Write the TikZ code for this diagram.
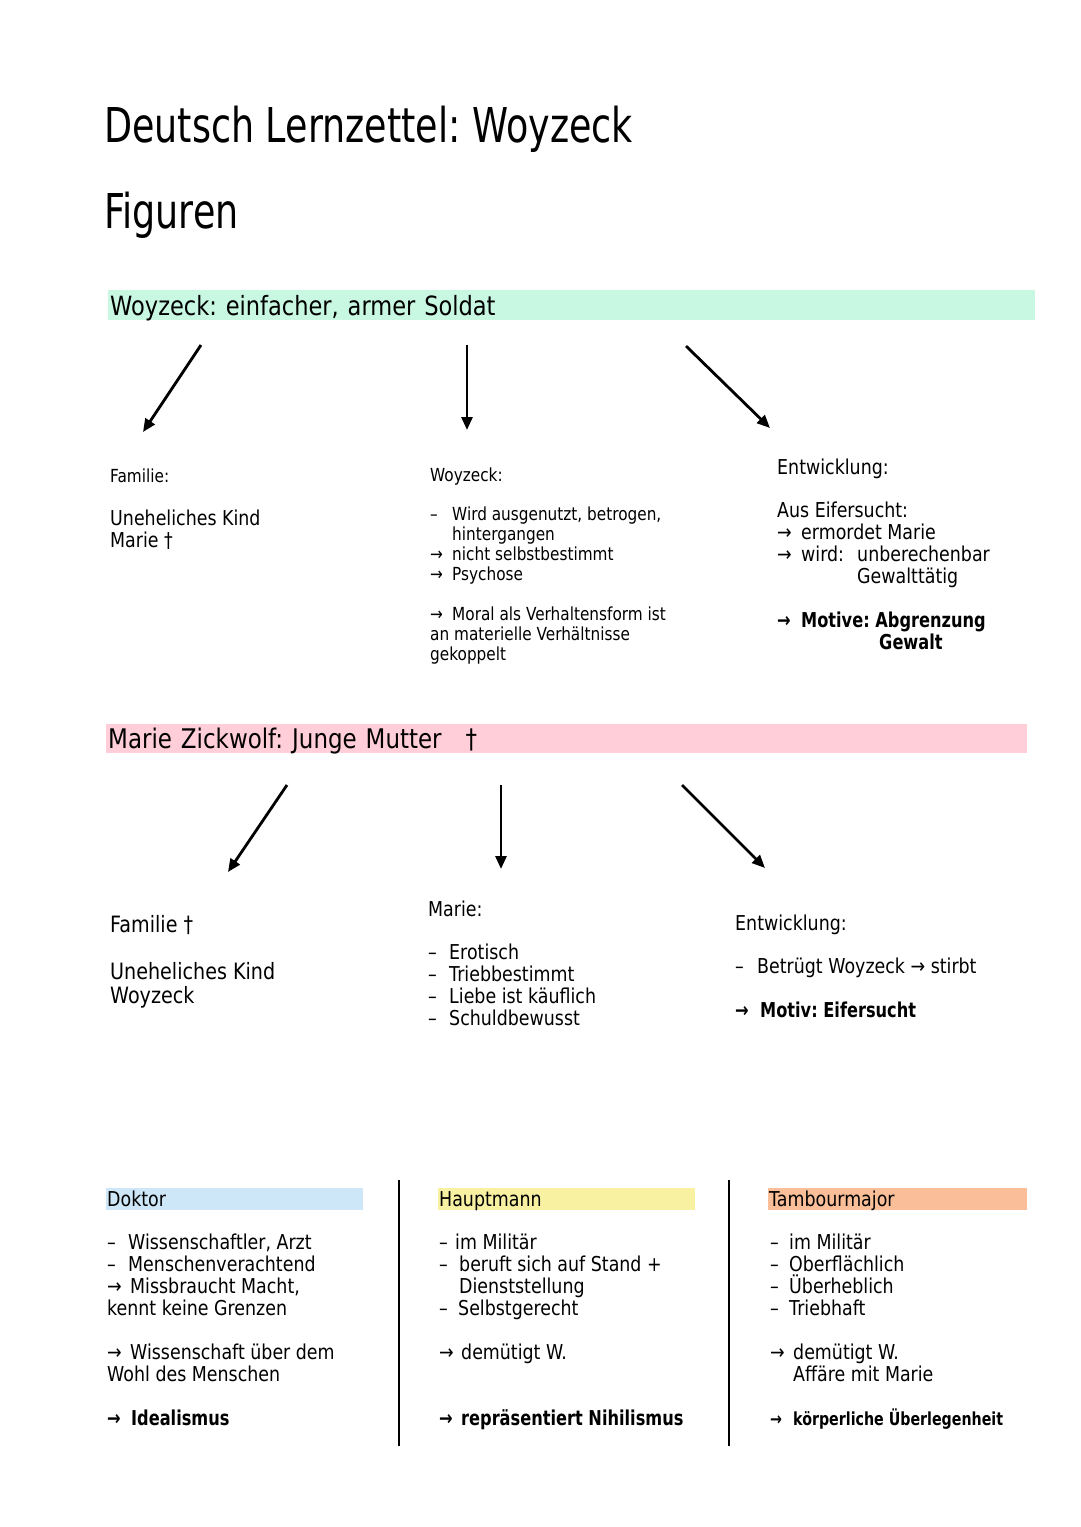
\documentclass[tikz,border=0pt]{standalone}
\usepackage{fontspec}
\setmainfont{DejaVu Sans}[FakeStretch=0.85, BoldFeatures={FakeStretch=0.79}]
\newfontfamily\titlefont{DejaVu Sans}[FakeStretch=0.76]
\frenchspacing
\usetikzlibrary{arrows.meta}
\definecolor{woyzeckgreen}{RGB}{200,248,226}
\definecolor{mariepink}{RGB}{255,206,216}
\definecolor{doktorblue}{RGB}{205,231,248}
\definecolor{hauptmannyellow}{RGB}{248,241,162}
\definecolor{tambourorange}{RGB}{250,190,152}
\newcommand{\leadsym}[2][22pt]{\makebox[#1][l]{#2}}
\newcommand{\textstack}[1]{\vtop{\hsize=400pt\lineskiplimit=-\maxdimen\raggedright\noindent#1\par}}
\tikzset{
	title node/.style={anchor=base west, inner sep=0, font=\titlefont\fontsize{48}{52}\selectfont},
	band node/.style={anchor=north west, inner xsep=2pt, inner ysep=0, align=left},
	text node/.style={anchor=base west, inner sep=0},
	head arrow/.style={line width=2.8pt, -{Triangle[length=13pt, width=11pt]}},
	rule line/.style={line width=2.6pt},
}

\begin{document}
\begin{tikzpicture}[x=1pt, y=-1pt]
\useasboundingbox (0,0) rectangle (1080,1527);

\node[title node] (title) at (104,142) {Deutsch Lernzettel: Woyzeck};
\node[title node] (figuren) at (104,228) {Figuren};

\node[band node, fill=woyzeckgreen, text width=923pt, text height=25pt, text depth=5pt, font=\fontsize{26.5}{30}\selectfont] (woyzeck band) at (108,290) {Woyzeck: einfacher, armer Soldat};

\coordinate (w left top) at (201,345);
\coordinate (w left tip) at (143,432);
\coordinate (w mid top) at (467,345);
\coordinate (w mid tip) at (467,430);
\coordinate (w right top) at (686,346);
\coordinate (w right tip) at (770,428);
\draw[head arrow] (w left top) -- (w left tip);
\draw[head arrow] (w mid top) -- (w mid tip);
\draw[head arrow] (w right top) -- (w right tip);

\node[text node, font=\fontsize{18}{22}\selectfont] (w family head) at (110,482) {Familie:};
\node[text node, font=\fontsize{20.5}{22}\selectfont] (w family) at (110,525) {\textstack{Uneheliches Kind\\Marie †}};

\node[text node, font=\fontsize{18}{20}\selectfont] (w person head) at (430,481) {Woyzeck:};
\node[text node, font=\fontsize{18}{20}\selectfont] (w person) at (430,520) {\textstack{%
	\leadsym[22pt]{–}Wird ausgenutzt, betrogen,\\
	\hspace*{22pt}hintergangen\\
	\leadsym[22pt]{→}nicht selbstbestimmt\\
	\leadsym[22pt]{→}Psychose\\[20pt]
	\leadsym[22pt]{→}Moral als Verhaltensform ist\\
	an materielle Verhältnisse\\
	gekoppelt}};

\node[text node, font=\fontsize{20.5}{22}\selectfont] (w change head) at (777,474) {Entwicklung:};
\node[text node, font=\fontsize{20.5}{22}\selectfont] (w change) at (777,517) {\textstack{%
	Aus Eifersucht:\\
	\leadsym[24pt]{→}ermordet Marie\\
	\leadsym[24pt]{→}\makebox[56pt][l]{wird:}unberechenbar\\
	\hspace*{80pt}Gewalttätig\\[22pt]
	\textbf{\leadsym[24pt]{→}Motive: Abgrenzung}\\
	\hspace*{102pt}\textbf{Gewalt}}};

\node[band node, fill=mariepink, text width=917pt, text height=24pt, text depth=5pt, font=\fontsize{27}{30}\selectfont] (marie band) at (106,724) {Marie Zickwolf: Junge Mutter\hspace{24pt}†};

\coordinate (m left top) at (287,785);
\coordinate (m left tip) at (228,872);
\coordinate (m mid top) at (501,785);
\coordinate (m mid tip) at (501,869);
\coordinate (m right top) at (682,785);
\coordinate (m right tip) at (765,868);
\draw[head arrow] (m left top) -- (m left tip);
\draw[head arrow] (m mid top) -- (m mid tip);
\draw[head arrow] (m right top) -- (m right tip);

\node[text node, font=\fontsize{22.5}{24}\selectfont] (m family head) at (110,932) {Familie †};
\node[text node, font=\fontsize{22.5}{24}\selectfont] (m family) at (110,979) {\textstack{Uneheliches Kind\\Woyzeck}};

\node[text node, font=\fontsize{20.5}{22}\selectfont] (m person head) at (428,916) {Marie:};
\node[text node, font=\fontsize{20.5}{22}\selectfont] (m person) at (428,959) {\textstack{%
	\leadsym[21pt]{–}Erotisch\\
	\leadsym[21pt]{–}Triebbestimmt\\
	\leadsym[21pt]{–}Liebe ist käuflich\\
	\leadsym[21pt]{–}Schuldbewusst}};

\node[text node, font=\fontsize{20.5}{22}\selectfont] (m change head) at (735,930) {Entwicklung:};
\node[text node, font=\fontsize{20.5}{22}\selectfont] (m change) at (735,973) {\textstack{%
	\leadsym[22pt]{–}Betrügt Woyzeck → stirbt\\[22pt]
	\textbf{\leadsym[25pt]{→}Motiv: Eifersucht}}};

\coordinate (rule one top) at (399,1180);
\coordinate (rule one bottom) at (399,1446);
\coordinate (rule two top) at (729,1180);
\coordinate (rule two bottom) at (729,1446);
\draw[rule line] (rule one top) -- (rule one bottom);
\draw[rule line] (rule two top) -- (rule two bottom);

\node[band node, fill=doktorblue, text width=255pt, text height=18pt, text depth=4pt, inner xsep=1pt, font=\fontsize{20.5}{22}\selectfont] (doktor band) at (106,1188) {Doktor};
\node[text node, font=\fontsize{20.5}{22}\selectfont] (doktor) at (107,1249) {\textstack{%
	\leadsym[21pt]{–}Wissenschaftler, Arzt\\
	\leadsym[21pt]{–}Menschenverachtend\\
	\leadsym[23pt]{→}Missbraucht Macht,\\
	kennt keine Grenzen\\[22pt]
	\leadsym[23pt]{→}Wissenschaft über dem\\
	Wohl des Menschen\\[22pt]
	\textbf{\leadsym[24pt]{→}Idealismus}}};

\node[band node, fill=hauptmannyellow, text width=255pt, text height=18pt, text depth=4pt, inner xsep=1pt, font=\fontsize{20.5}{22}\selectfont] (hauptmann band) at (438,1188) {Hauptmann};
\node[text node, font=\fontsize{20.5}{22}\selectfont] (hauptmann) at (439,1249) {\textstack{%
	\leadsym[16pt]{–}im Militär\\
	\leadsym[20pt]{–}beruft sich auf Stand +\\
	\hspace*{20pt}Dienststellung\\
	\leadsym[19pt]{–}Selbstgerecht\\[22pt]
	\leadsym[22pt]{→}demütigt W.\\[44pt]
	\textbf{\leadsym[22pt]{→}repräsentiert Nihilismus}}};

\node[band node, fill=tambourorange, text width=257pt, text height=18pt, text depth=4pt, inner xsep=1pt, font=\fontsize{20.5}{22}\selectfont] (tambour band) at (768,1188) {Tambourmajor};
\node[text node, font=\fontsize{20.5}{22}\selectfont] (tambour) at (770,1249) {\textstack{%
	\leadsym[19pt]{–}im Militär\\
	\leadsym[19pt]{–}Oberflächlich\\
	\leadsym[19pt]{–}Überheblich\\
	\leadsym[19pt]{–}Triebhaft\\[22pt]
	\leadsym[23pt]{→}demütigt W.\\
	\hspace*{23pt}Affäre mit Marie\\[22pt]
	\textbf{\fontsize{18}{22}\selectfont\leadsym[23pt]{→}körperliche Überlegenheit}}};
\end{tikzpicture}
\end{document}
